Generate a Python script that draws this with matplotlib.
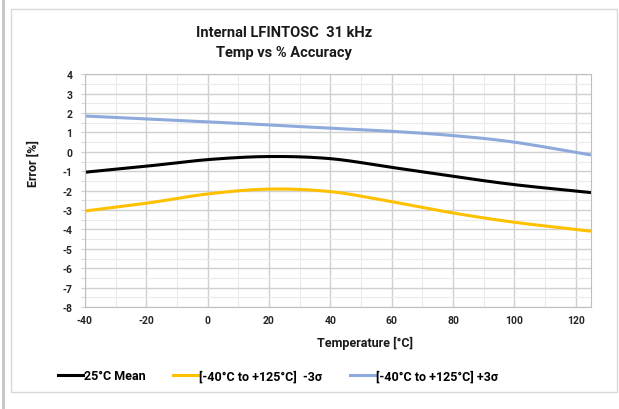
import numpy as np
import matplotlib
matplotlib.use("Agg")
import matplotlib.pyplot as plt
from matplotlib.patches import Rectangle
from matplotlib.lines import Line2D

plt.rcParams["font.family"] = ["Roboto", "DejaVu Sans"]
plt.rcParams["axes.unicode_minus"] = False

# readings taken off the reference chart
temps = [-40, -20, 0, 20, 40, 60, 80, 100, 125]
mean_25c = [-1.05, -0.74, -0.40, -0.24, -0.35, -0.80, -1.26, -1.69, -2.10]
minus_3sigma = [-3.05, -2.65, -2.17, -1.92, -2.05, -2.57, -3.15, -3.63, -4.09]
plus_3sigma = [1.85, 1.70, 1.55, 1.39, 1.22, 1.06, 0.84, 0.50, -0.16]

labels = ["25\u00b0C Mean",
          "[-40\u00b0C to +125\u00b0C]  -3\u03c3",
          "[-40\u00b0C to +125\u00b0C] +3\u03c3"]
colors = ["#000000", "#FFC000", "#8EA9DB"]


def smooth(x, y, n=20):
    # catmull-rom style smoothing, like Excel's "smoothed line"
    x = np.asarray(x, float)
    y = np.asarray(y, float)
    px = np.concatenate([[2 * x[0] - x[1]], x, [2 * x[-1] - x[-2]]])
    py = np.concatenate([[2 * y[0] - y[1]], y, [2 * y[-1] - y[-2]]])
    xs, ys = [], []
    t = np.linspace(0, 1, n, endpoint=False)
    for i in range(1, len(px) - 2):
        for arr, out in ((px, xs), (py, ys)):
            p0, p1, p2, p3 = arr[i - 1], arr[i], arr[i + 1], arr[i + 2]
            out.extend(0.5 * ((2 * p1) + (-p0 + p2) * t
                              + (2 * p0 - 5 * p1 + 4 * p2 - p3) * t ** 2
                              + (-p0 + 3 * p1 - 3 * p2 + p3) * t ** 3))
    xs.append(x[-1])
    ys.append(y[-1])
    return np.array(xs), np.array(ys)


W, H = 619, 410
fig = plt.figure(figsize=(W / 100, H / 100), dpi=100)
fig.patch.set_facecolor("white")

# chart frame and the grey bar on the left
fig.add_artist(Rectangle((11 / W, 1 - 393 / H), 606 / W, 383.5 / H,
                         transform=fig.transFigure, fill=False,
                         edgecolor="#D9D9D9", linewidth=1.0))
fig.add_artist(Rectangle((1.5 / W, 0), 3 / W, 1, transform=fig.transFigure,
                         facecolor="#C8C8C8", edgecolor="none"))

ax = fig.add_axes([85 / W, 1 - 308 / H, 506 / W, 232.7 / H])
ax.set_xlim(-40, 125)
ax.set_ylim(-8, 4)
ax.set_xticks(range(-40, 121, 20))
ax.set_xticks(list(range(-30, 121, 20)) + [120], minor=True)
ax.set_yticks(range(-8, 5))
ax.set_yticks(np.arange(-7.5, 4, 1), minor=True)
ax.grid(which="major", color="#D0D0D0", linewidth=1.0)
ax.grid(which="minor", color="#EBEBEB", linewidth=0.8)
ax.set_axisbelow(True)
for s in ax.spines.values():
    s.set_color("#BFBFBF")
ax.tick_params(axis="y", which="both", length=3, color="#D0D0D0")
ax.tick_params(axis="x", which="both", length=0)
ax.tick_params(which="both", labelsize=7.5, pad=6, labelcolor="#262626")
for lab in ax.get_xticklabels() + ax.get_yticklabels():
    lab.set_fontweight("bold")

for ys, c in zip([mean_25c, minus_3sigma, plus_3sigma], colors):
    sx, sy = smooth(temps, ys)
    ax.plot(sx, sy, color=c, linewidth=2.2, solid_capstyle="butt")

fig.text(284 / W, 1 - 33 / H, "Internal LFINTOSC  31 kHz", ha="center",
         va="center", fontsize=10.5, fontweight="bold", color="#1a1a1a")
fig.text(284 / W, 1 - 53 / H, "Temp vs % Accuracy", ha="center",
         va="center", fontsize=10.5, fontweight="bold", color="#1a1a1a")
fig.text(365 / W, 1 - 343 / H, "Temperature [\u00b0C]", ha="center",
         va="center", fontsize=9, fontweight="bold", color="#1a1a1a")
fig.text(33 / W, 1 - 164 / H, "Error [%]", ha="center", va="center",
         rotation=90, fontsize=9, fontweight="bold", color="#1a1a1a")

handles = [Line2D([], [], color=c, linewidth=2.2) for c in colors]
leg = fig.legend(handles, labels, loc="center", bbox_to_anchor=(278 / W, 1 - 377 / H),
                 ncol=3, frameon=False, handlelength=2.0, handletextpad=0.1,
                 columnspacing=2.2, prop={"size": 9, "weight": "bold"})

fig.savefig("out.png", dpi=100)
